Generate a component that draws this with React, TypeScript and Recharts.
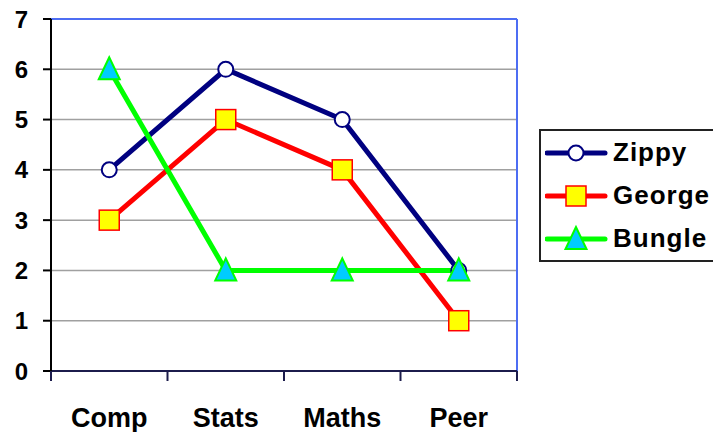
import React from 'react';
import { LineChart, Line, XAxis, YAxis, CartesianGrid, Legend, ReferenceLine } from 'recharts';

const subjects = ['Comp', 'Stats', 'Maths', 'Peer'];
const seriesNames = ['Zippy', 'George', 'Bungle'];
const zippy = [4, 6, 5, 2];
const george = [3, 5, 4, 1];
const bungle = [6, 2, 2, 2];
const yTicks = [0, 1, 2, 3, 4, 5, 6, 7];

// each subject sits in the middle of its slot, tick marks go on the slot edges
const data = subjects.map((name, i) => ({
  name,
  pos: i + 0.5,
  Zippy: zippy[i],
  George: george[i],
  Bungle: bungle[i],
}));
const xTicks = [0, 0.5, 1, 1.5, 2, 2.5, 3, 3.5, 4];

const FONT = '"Liberation Sans", Arial, sans-serif';

const circleDot = (p: any) => (
  <circle key={p.key} cx={p.cx} cy={p.cy} r={7.5} fill="#ffffff" stroke="#000080" strokeWidth={2} />
);

const squareDot = (p: any) => (
  <rect key={p.key} x={p.cx - 10} y={p.cy - 10} width={20} height={20} fill="#ffff00" stroke="#ff0000" strokeWidth={1.5} />
);

const triangleDot = (p: any) => (
  <polygon
    key={p.key}
    points={`${p.cx},${p.cy - 12} ${p.cx - 10.5},${p.cy + 10} ${p.cx + 10.5},${p.cy + 10}`}
    fill="#00ccff"
    stroke="#00ff00"
    strokeWidth={2}
  />
);

const XTick = (props: any) => {
  const { x, y, payload } = props;
  const v = payload.value;
  if (Number.isInteger(v)) {
    return <line x1={x} x2={x} y1={y} y2={y + 10} stroke="#1c1c4c" strokeWidth={2} />;
  }
  return (
    <text x={x} y={y + 37} dy="0.71em" textAnchor="middle" fontFamily={FONT} fontWeight="bold" fontSize={27} fill="#000">
      {subjects[Math.floor(v)]}
    </text>
  );
};

const legendIcon = (name: string, color: string) => {
  let marker: React.ReactNode = null;
  if (name === 'Zippy') marker = circleDot({ cx: 31, cy: 15 });
  if (name === 'George') marker = squareDot({ cx: 31, cy: 15 });
  if (name === 'Bungle') marker = triangleDot({ cx: 31, cy: 15 });
  return (
    <svg width={66} height={30} style={{ display: 'block' }}>
      <line x1={2} x2={60} y1={15} y2={15} stroke={color} strokeWidth={5} strokeLinecap="round" />
      {marker}
    </svg>
  );
};

const LegendBox = (props: any) => {
  const entries = [...(props.payload || [])].sort(
    (a: any, b: any) => seriesNames.indexOf(a.value) - seriesNames.indexOf(b.value)
  );
  return (
    <div
      style={{
        border: '2px solid #222',
        width: 190,
        height: 133,
        boxSizing: 'border-box',
        paddingLeft: 4,
        background: '#fff',
      }}
    >
      {entries.map((entry: any) => (
        <div key={entry.value} style={{ display: 'flex', alignItems: 'center', height: 43 }}>
          {legendIcon(entry.value, entry.color)}
          <span
            style={{
              fontFamily: FONT,
              fontWeight: 'bold',
              fontSize: 26,
              letterSpacing: 1,
              color: '#000',
              marginLeft: 2,
            }}
          >
            {entry.value}
          </span>
        </div>
      ))}
    </div>
  );
};

export default function App() {
  return (
    <div style={{ position: 'absolute', left: 0, top: 0, width: 713, height: 432, overflow: 'hidden', background: '#fff' }}>
      <LineChart width={713} height={432} data={data} margin={{ top: 19, right: 196, left: 0, bottom: 0 }}>
        <CartesianGrid horizontal vertical={false} stroke="#a0a0a0" strokeWidth={1.5} />
        <XAxis
          dataKey="pos"
          type="number"
          domain={[0, 4]}
          ticks={xTicks}
          interval={0}
          height={61}
          tickSize={0}
          tickMargin={0}
          tickLine={false}
          tick={<XTick />}
          axisLine={{ stroke: '#1c1c4c', strokeWidth: 2 }}
        />
        <YAxis
          domain={[0, 7]}
          ticks={yTicks}
          interval={0}
          width={51}
          tickSize={8}
          tickMargin={15}
          tickLine={{ stroke: '#000', strokeWidth: 2 }}
          axisLine={{ stroke: '#000', strokeWidth: 2 }}
          tick={{ fontFamily: FONT, fontWeight: 'bold', fontSize: 24, fill: '#000' }}
        />
        <ReferenceLine y={7} stroke="#4d6df3" strokeWidth={2} />
        <ReferenceLine x={4} stroke="#4d6df3" strokeWidth={2} />
        <Line dataKey="Zippy" stroke="#000080" strokeWidth={5} dot={circleDot} isAnimationActive={false} />
        <Line dataKey="George" stroke="#ff0000" strokeWidth={5} dot={squareDot} isAnimationActive={false} />
        <Line dataKey="Bungle" stroke="#00ff00" strokeWidth={5} dot={triangleDot} isAnimationActive={false} />
        <Legend
          layout="horizontal"
          align="center"
          verticalAlign="middle"
          content={<LegendBox />}
          wrapperStyle={{ left: 539, top: 129, width: 190 }}
        />
      </LineChart>
    </div>
  );
}
